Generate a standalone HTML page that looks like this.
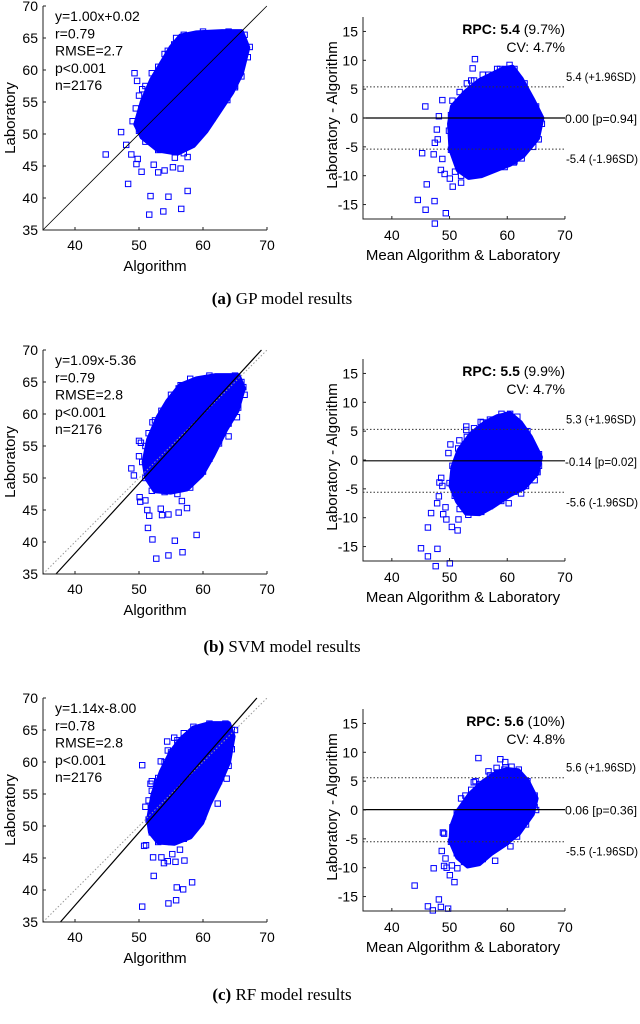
<!DOCTYPE html>
<html><head><meta charset="utf-8">
<style>
html,body{margin:0;padding:0;background:#fff;}
svg{display:block;font-family:"Liberation Sans",sans-serif;}
.cap{font-family:"Liberation Serif",serif;font-size:17px;}
</style></head>
<body>
<svg id="fig" width="640" height="1024" viewBox="0 0 640 1024"></svg>
<script>
// ---- data (Algorithm, Laboratory) ----
const modelNames = ["GP", "SVM", "RF"];
const fitSlopes = [1.00, 1.09, 1.14];
const fitIntercepts = [0.02, -5.36, -8.00];
const statR = ["0.79", "0.79", "0.78"];
const statRMSE = ["2.7", "2.8", "2.8"];
const rpcVals = ["5.4", "5.5", "5.6"];
const rpcPct = ["(9.7%)", "(9.9%)", "(10%)"];
const cvVals = ["4.7%", "4.7%", "4.8%"];
const baMean = [0.00, -0.14, 0.06];
const baMeanP = ["0.94", "0.02", "0.36"];
const baUpper = [5.4, 5.3, 5.6];
const baLower = [-5.4, -5.6, -5.5];
const xTicks = [40, 50, 60, 70];
const yTicksLeft = [35, 40, 45, 50, 55, 60, 65, 70];
const yTicksRight = [-15, -10, -5, 0, 5, 10, 15];

const coreA = [[49.5,51.5],[50.5,55],[52,58.5],[53.5,61],[55,63.5],[56.5,65.3],[59,65.8],[63,66],[66,66],[67,63.5],[66,59.5],[64.5,56.5],[62.5,53.5],[60.5,50.5],[58.5,48.2],[56,47],[53,47.5],[50.5,49.5]];
const coreB = [[50.8,52.5],[51.5,56],[53,59.5],[54.5,62],[56.5,64.5],[59,65.5],[62,66],[65.5,66],[66.3,64],[65.3,60.5],[63.5,57.5],[61.5,53.5],[59.8,50.5],[57.5,48.3],[55,47.8],[52.5,48],[51.2,50]];
const coreC = [[51.5,51],[52.2,55],[53.5,58.5],[55,61.5],[56.5,63.5],[58.5,65.3],[61,66],[64,66],[64.7,64],[64,60],[62.5,56.5],[61,53.5],[59.8,50.5],[58,48.3],[55.5,47.3],[53,47.5],[51.8,49]];

const outA = [[44.8,46.8],[47.2,50.3],[48,48.3],[48.3,42.2],[48.8,46.8],[49.6,45.3],[49.8,46.1],[50.4,44.1],[49.3,59.5],[49.7,58.3],[50.5,57.0],[51.8,40.3],[51.6,37.4],[53.8,37.9],[54.6,40.2],[56.6,38.3],[57.6,41.1],[52.3,45.2],[53,44],[54,44.3],[55.3,44.8],[56.5,44.6],[57.6,46.4],[55.6,46.3],[65,57.3],[67.3,63.6],[63.8,55.3],[62.7,56.3],[55.8,65],[56,63.5],[54.5,63]];
const outB = [[48.8,51.5],[49.2,50.4],[50,55.8],[50.3,55.5],[50,53.4],[50.1,47],[50.2,46.3],[51,46.5],[51.3,45],[51.6,44.1],[51.4,42.2],[52.1,40.4],[52.7,37.4],[54.6,37.9],[55.6,40.2],[56.8,38.4],[59,41.1],[53.4,45.2],[53.6,44.2],[54.6,44.3],[56.2,44.6],[57.5,45.3],[56.7,46.4],[52.1,58.7],[56.2,64],[55.2,61.8],[64,56.5],[62.5,55.4],[65.3,59.5],[64.2,61.3],[66.3,64.2]];
const outC = [[50.5,37.4],[52.3,42.2],[54.6,37.9],[55.8,38.4],[55.9,40.4],[56.9,40.1],[58.3,41.2],[51.1,47],[50.8,46.9],[52.2,45.1],[53.5,45.1],[53.9,44.2],[54.5,44.5],[55.2,45.6],[55.7,44.4],[57.1,44.6],[56.4,46.3],[50.5,59.5],[51.8,56.6],[51,53],[52,57],[53.4,60.1],[56,63.4],[55.5,63.8],[54.4,63.2],[54.5,61.8],[63.7,57.4],[61.2,55.3],[62.3,53.5],[64,59.4],[65,65]];

const fringeA = [[49,52],[49.5,54],[50,56],[51,57.5],[52,59.5],[53,60.5],[54,62.5],[55.5,64],[57,65.5],[60,66],[64,66],[66.5,65.5],[67,62],[66,59],[65,57.5],[63,55],[61.5,52.5],[60,50.5],[58.5,49],[57,47],[55,47.5],[53,47.5],[51,48.8],[50,50.5]];
const fringeB = [[50.5,52.5],[51,55],[51.5,57],[52.5,59],[53.5,60.5],[55,63],[56.5,64.5],[58,65.5],[61,66],[65,66],[66,65],[66.5,63],[65.5,61],[64,58.5],[62.5,56],[61,53],[60,51],[58,48.5],[56,47.5],[54,47.8],[52,48],[51,50]];
const fringeC = [[51.5,51],[51.5,54],[52,55.5],[53,57.5],[54,60],[55,61.5],[56,63],[57,64.5],[58.5,65.5],[61,66],[63.5,66],[64.5,65],[64.5,62],[63.5,59.5],[62.5,57],[61,54.5],[60,51.5],[58.5,49.5],[57,48],[55,47.5],[53,47.5],[52,49]];

const cores = [coreA, coreB, coreC];
const outliers = [outA.concat(fringeA), outB.concat(fringeB), outC.concat(fringeC)];

// ---- drawing ----
const NS = "http://www.w3.org/2000/svg";
const svg = document.getElementById("fig");
function mk(tag, attrs, parent, text) {
  const e = document.createElementNS(NS, tag);
  for (const k in attrs) e.setAttribute(k, attrs[k]);
  if (text !== undefined) e.textContent = text;
  (parent || svg).appendChild(e);
  return e;
}
const leftOff = [0, 344, 692];
const rightOff = [0, 342, 692];
const captionY = [304, 652, 1000];
const letters = ["(a)", "(b)", "(c)"];

for (let m = 0; m < 3; m++) {
  const lo = leftOff[m], ro = rightOff[m];
  const lx = v => 43 + (v - 35) * 6.4;
  const ly = v => lo + 230 - (v - 35) * 6.4;
  const gL = mk("g", {}, svg);
  
  
  const core = mk("polygon", {points: cores[m].map(p => lx(p[0]) + "," + ly(p[1])).join(" "), fill: "#0000ff", stroke: "#0000ff", "stroke-width": 5, "stroke-linejoin": "round"}, gL);
  
  
  for (const p of outliers[m]) {
    const r = mk("rect", {x: lx(p[0]) - 2.7, y: ly(p[1]) - 2.7, width: 5.4, height: 5.4, fill: "none", stroke: "#0000ff", "stroke-width": 1}, gL);
    
    
  }
  if (m > 0) {
    const idl = mk("line", {x1: lx(35), y1: ly(35), x2: lx(70), y2: ly(70), stroke: "#999", "stroke-width": 1, "stroke-dasharray": "1.5,2"}, gL);
    
    
  }
  const x0 = Math.max(35, (35 - fitIntercepts[m]) / fitSlopes[m]);
  const x1 = Math.min(70, (70 - fitIntercepts[m]) / fitSlopes[m]);
  const fl = mk("line", {x1: lx(x0), y1: ly(fitSlopes[m] * x0 + fitIntercepts[m]), x2: lx(x1), y2: ly(fitSlopes[m] * x1 + fitIntercepts[m]), stroke: "#000", "stroke-width": m > 0 ? 1.2 : 0.8}, gL);
  
  
  mk("path", {d: `M43,${lo+6}V${lo+230}H267`, fill: "none", stroke: "#222", "stroke-width": 1}, gL);
  for (const t of xTicks) {
    mk("line", {x1: lx(t), y1: lo+230, x2: lx(t), y2: lo+227, stroke: "#222"}, gL);
    const tl = mk("text", {x: lx(t), y: lo+250, "text-anchor": "middle", "font-size": 14}, gL, t);
    
    
  }
  for (const t of yTicksLeft) {
    mk("line", {x1: 43, y1: ly(t), x2: 46, y2: ly(t), stroke: "#222"}, gL);
    const tl = mk("text", {x: 38, y: ly(t) + 5, "text-anchor": "end", "font-size": 14}, gL, t);
    
    
  }
  const xt = mk("text", {x: 155, y: lo+271, "text-anchor": "middle", "font-size": 15}, gL, "Algorithm");
  
  
  const yt = mk("text", {x: 0, y: 0, "text-anchor": "middle", "font-size": 15, transform: `translate(15,${lo+118}) rotate(-90)`}, gL, "Laboratory");
  
  
  const sign = fitIntercepts[m] < 0 ? "" : "+";
  const ann = [`y=${fitSlopes[m].toFixed(2)}x${sign}${fitIntercepts[m].toFixed(2)}`, `r=${statR[m]}`, `RMSE=${statRMSE[m]}`, "p<0.001", "n=2176"];
  ann.forEach((s, i) => {
    const a = mk("text", {x: 55, y: lo + 21 + i * 17.3, "font-size": 14}, gL, s);
    
    
  });

  const rx = v => 363 + (v - 35) * 5.77;
  const ry = v => ro + 118 - v * 5.77;
  const gR = mk("g", {}, svg);
  
  
  const bc = mk("polygon", {points: cores[m].map(p => rx((p[0] + p[1]) / 2) + "," + ry(p[1] - p[0])).join(" "), fill: "#0000ff", stroke: "#0000ff", "stroke-width": 5, "stroke-linejoin": "round"}, gR);
  
  
  for (const p of outliers[m]) {
    const r = mk("rect", {x: rx((p[0] + p[1]) / 2) - 2.7, y: ry(p[1] - p[0]) - 2.7, width: 5.4, height: 5.4, fill: "none", stroke: "#0000ff", "stroke-width": 1}, gR);
    
    
  }
  const ml = mk("line", {x1: 363, y1: ry(baMean[m]), x2: 565, y2: ry(baMean[m]), stroke: "#000", "stroke-width": 1.2}, gR);
  
  
  for (const v of [baUpper[m], baLower[m]]) {
    const l = mk("line", {x1: 363, y1: ry(v), x2: 565, y2: ry(v), stroke: "#333", "stroke-width": 1, "stroke-dasharray": "1.5,2"}, gR);
    
    
  }
  const lu = mk("text", {x: 566, y: ry(baUpper[m]) - 6, "font-size": 12, textLength: 70, lengthAdjust: "spacingAndGlyphs"}, gR, `${baUpper[m].toFixed(1)} (+1.96SD)`);
  
  
  const lm = mk("text", {x: 565, y: ry(baMean[m]) + 5, "font-size": 12, textLength: 72, lengthAdjust: "spacingAndGlyphs"}, gR, `${baMean[m].toFixed(2)} [p=${baMeanP[m]}]`);
  
  
  const ll = mk("text", {x: 566, y: ry(baLower[m]) + 14, "font-size": 12, textLength: 72, lengthAdjust: "spacingAndGlyphs"}, gR, `${baLower[m].toFixed(1)} (-1.96SD)`);
  
  
  mk("path", {d: `M363,${ro+17}V${ro+219}H565`, fill: "none", stroke: "#222", "stroke-width": 1}, gR);
  for (const t of xTicks) {
    mk("line", {x1: rx(t), y1: ro+219, x2: rx(t), y2: ro+216, stroke: "#222"}, gR);
    const tl = mk("text", {x: rx(t), y: ro+240, "text-anchor": "middle", "font-size": 14}, gR, t);
    
    
  }
  for (const t of yTicksRight) {
    mk("line", {x1: 363, y1: ry(t), x2: 366, y2: ry(t), stroke: "#222"}, gR);
    const tl = mk("text", {x: 358, y: ry(t) + 5, "text-anchor": "end", "font-size": 14}, gR, t);
    
    
  }
  const rxt = mk("text", {x: 463, y: ro+260, "text-anchor": "middle", "font-size": 15}, gR, "Mean Algorithm & Laboratory");
  
  
  const ryt = mk("text", {x: 0, y: 0, "text-anchor": "middle", "font-size": 15, transform: `translate(337,${ro+115}) rotate(-90)`}, gR, "Laboratory - Algorithm");
  
  
  const rpc = mk("text", {x: 565, y: ro+34, "text-anchor": "end", "font-size": 14}, gR);
  
  
  mk("tspan", {"font-weight": "bold"}, rpc, `RPC: ${rpcVals[m]}`);
  mk("tspan", {}, rpc, ` ${rpcPct[m]}`);
  const cv = mk("text", {x: 565, y: ro+52, "text-anchor": "end", "font-size": 14}, gR, `CV: ${cvVals[m]}`);
  
  

  const cap = mk("text", {x: 282, y: captionY[m], "text-anchor": "middle", class: "cap"}, svg);
  
  
  mk("tspan", {"font-weight": "bold"}, cap, letters[m]);
  mk("tspan", {}, cap, `  ${modelNames[m]} model results`);
}
</script>
</body></html>
